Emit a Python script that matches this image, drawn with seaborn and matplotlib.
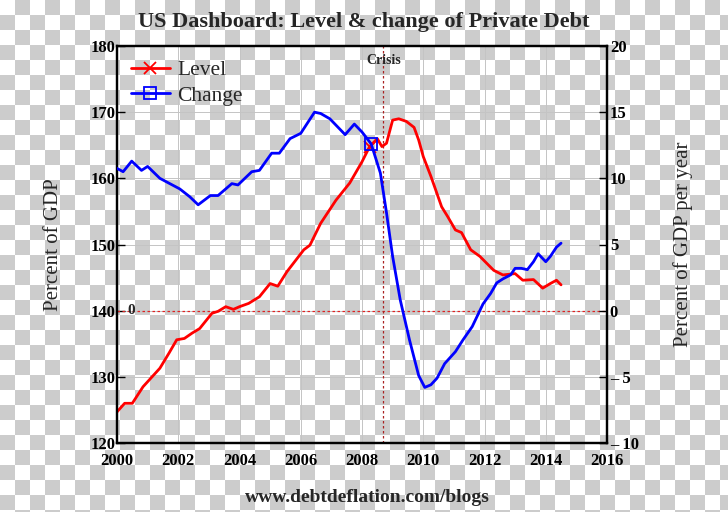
import numpy as np
import pandas as pd
import matplotlib
matplotlib.use("Agg")
import matplotlib.pyplot as plt
from matplotlib.lines import Line2D
import seaborn as sns

# Private debt level (% of GDP)
years_level = [2000.0, 2000.25, 2000.5, 2000.85, 2001.4, 2001.7, 2001.95, 2002.2, 2002.45, 2002.7,
               2003.1, 2003.3, 2003.55, 2003.8, 2004.0, 2004.3, 2004.65, 2005.0, 2005.25, 2005.55,
               2006.1, 2006.3, 2006.65, 2007.15, 2007.6, 2008.0, 2008.25, 2008.5, 2008.65, 2008.8,
               2009.0, 2009.2, 2009.45, 2009.7, 2009.85, 2010.0, 2010.25, 2010.6, 2010.8, 2011.05,
               2011.25, 2011.55, 2011.85, 2012.3, 2012.6, 2013.0, 2013.25, 2013.6, 2013.9, 2014.15,
               2014.35, 2014.5]
level = [124.7, 126.0, 126.0, 128.5, 131.3, 133.6, 135.6, 135.8, 136.6, 137.3,
         139.6, 139.9, 140.6, 140.2, 140.6, 141.1, 142.1, 144.1, 143.7, 145.9,
         149.2, 149.9, 153.2, 156.7, 159.3, 162.5, 164.8, 166.0, 164.8, 165.3,
         168.8, 169.0, 168.6, 167.7, 165.8, 163.3, 160.3, 155.7, 154.2, 152.2,
         151.8, 149.2, 148.2, 146.1, 145.4, 145.6, 144.6, 144.7, 143.4, 144.1,
         144.6, 143.9]

# Change in private debt (% of GDP per year)
years_change = [2000.0, 2000.2, 2000.48, 2000.8, 2001.0, 2001.4, 2002.05, 2002.38, 2002.65, 2003.05,
                2003.3, 2003.75, 2003.95, 2004.4, 2004.65, 2005.05, 2005.3, 2005.65, 2006.0, 2006.45,
                2006.65, 2006.95, 2007.45, 2007.75, 2008.0, 2008.3, 2008.6, 2008.8, 2009.0, 2009.25,
                2009.55, 2009.85, 2010.05, 2010.25, 2010.45, 2010.7, 2011.05, 2011.3, 2011.6, 2011.95,
                2012.2, 2012.4, 2012.6, 2012.85, 2013.0, 2013.2, 2013.4, 2013.6, 2013.75, 2014.0,
                2014.15, 2014.35, 2014.5]
change = [10.75, 10.5, 11.3, 10.6, 10.9, 10.0, 9.2, 8.6, 8.0, 8.7,
          8.7, 9.6, 9.5, 10.5, 10.6, 11.9, 11.9, 13.0, 13.4, 15.0,
          14.9, 14.5, 13.3, 14.1, 13.5, 12.6, 10.4, 7.4, 4.1, 0.8,
          -2.2, -4.9, -5.8, -5.6, -5.1, -4.0, -3.1, -2.2, -1.2, 0.5,
          1.3, 2.1, 2.4, 2.7, 3.2, 3.2, 3.1, 3.7, 4.3, 3.7,
          4.1, 4.8, 5.1]

crisis_year = 2008.7
x_ticks = [2000, 2002, 2004, 2006, 2008, 2010, 2012, 2014, 2016]
left_ticks = [120, 130, 140, 150, 160, 170, 180]
right_ticks = [-10, -5, 0, 5, 10, 15, 20]
right_labels = ["\u2013 10", "\u2013 5", "0", "5", "10", "15", "20"]

df_level = pd.DataFrame({"year": years_level, "level": level})
df_change = pd.DataFrame({"year": years_change, "change": change})

sns.set_style("white")
plt.rcParams["font.family"] = ["Liberation Serif", "DejaVu Serif"]

fig = plt.figure(figsize=(7.28, 5.12), dpi=100)

# transparent-background checkerboard
bg = fig.add_axes([0, 0, 1, 1])
board = (np.indices((35, 49)).sum(axis=0) % 2).astype(float)
bg.imshow(board, cmap=matplotlib.colors.ListedColormap(["white", "#cccccc"]),
          extent=(0, 49 * 15, 35 * 15, 0), interpolation="nearest", aspect="auto")
bg.set_xlim(0, 728)
bg.set_ylim(512, 0)
bg.axis("off")

ax = fig.add_axes([117 / 728, 69 / 512, 490 / 728, 397 / 512])
ax.patch.set_alpha(0)
ax2 = ax.twinx()
ax2.patch.set_alpha(0)

sns.lineplot(data=df_level, x="year", y="level", ax=ax, color="red", lw=2,
             sort=False, estimator=None, marker="x", markevery=[26], markersize=8,
             markeredgecolor="red", markeredgewidth=1.3, zorder=3)
sns.lineplot(data=df_change, x="year", y="change", ax=ax2, color="blue", lw=2,
             sort=False, estimator=None, marker="s", markevery=[25], markersize=8,
             markerfacecolor="none", markeredgecolor="blue", markeredgewidth=1.3, zorder=3)

ax.set_xlim(2000, 2016)
ax.set_ylim(120, 180)
ax2.set_ylim(-10, 20)
ax.set_xticks(x_ticks)
ax.set_yticks(left_ticks)
ax2.set_yticks(right_ticks)
ax2.set_yticklabels(right_labels)

ax.grid(True, color="#c4c4c4", lw=0.7)
ax.axhline(140, color="#dd2222", lw=0.9, ls=(0, (2, 2)), zorder=2)
ax.axvline(crisis_year, color="#aa2222", lw=0.9, ls=(0, (2, 2)), zorder=2)
ax.text(crisis_year, 177.8, "Crisis", ha="center", va="center", fontsize=10, fontweight="bold")
ax.text(2000.45, 140.1, "0", ha="center", va="center", fontsize=11, fontweight="bold")

for a in (ax, ax2):
    for s in a.spines.values():
        s.set_color("black")
        s.set_linewidth(1.6)
    a.tick_params(direction="in", length=6, width=1, colors="black", pad=2, labelsize=12)
    for lab in a.get_xticklabels() + a.get_yticklabels():
        lab.set_fontweight("bold")
ax.tick_params(axis="y", pad=1)
ax.tick_params(axis="x", pad=7)

ax.set_xlabel("")
ax.set_ylabel("Percent of GDP", fontsize=15, labelpad=20)
ax2.set_ylabel("Percent of GDP per year", fontsize=15, labelpad=25)

handles = [
    Line2D([], [], color="red", lw=2, marker="x", markersize=9, markeredgewidth=1.3),
    Line2D([], [], color="blue", lw=2, marker="s", markersize=8, markerfacecolor="none",
           markeredgewidth=1.3),
]
leg = ax.legend(handles, ["Level", "Change"], loc="upper left", bbox_to_anchor=(0.022, 0.972),
                fontsize=15.5, frameon=True, fancybox=False, framealpha=0, edgecolor="black",
                borderpad=0.15, handlelength=1.8, handletextpad=0.35, labelspacing=0.25,
                borderaxespad=0)
leg.get_frame().set_linewidth(1.5)

fig.text(0.5, 0.957, "US Dashboard: Level & change of Private Debt", ha="center", va="center",
         fontsize=16, fontweight="bold")
fig.text(0.505, 0.028, "www.debtdeflation.com/blogs", ha="center", va="center",
         fontsize=14, fontweight="bold")

fig.savefig("out.png", dpi=100)
